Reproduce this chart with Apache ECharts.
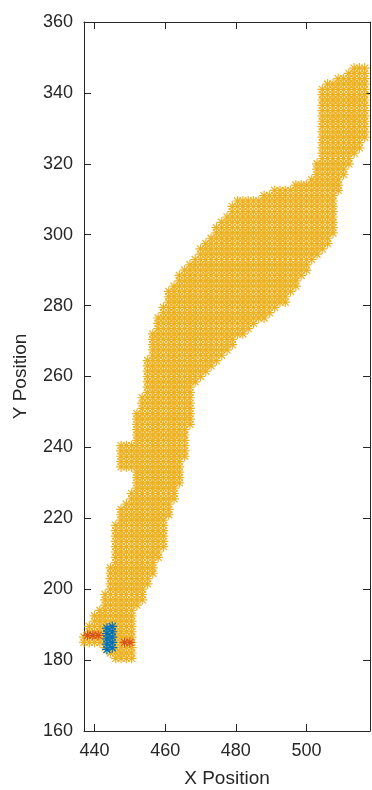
<!DOCTYPE html>
<html>
<head>
<meta charset="utf-8">
<script src="https://cdn.jsdelivr.net/npm/echarts@6/dist/echarts.min.js"></script>
<style>
  html, body { margin: 0; padding: 0; background: #ffffff; }
  #chart { width: 372px; height: 790px; }
</style>
</head>
<body>
<div id="chart"></div>
<script>
// Footprint of the tracked region: each row is [y, xFrom, xTo].
// Samples sit on a 1.5-unit lattice anchored at x = 437.
const yellowRows = [
  [180.5, 446, 450.5], [182, 444, 450.5], [183.5, 442, 450.5], [185, 436.5, 450.8],
  [186.5, 437, 450.8], [188, 437.5, 450.8], [189.5, 438, 450.8], [191, 439, 451],
  [192.5, 440, 451.2], [194, 441, 451.6], [195.5, 441.7, 452.6], [197, 442.2, 453.6],
  [198.5, 442.7, 454.2], [200, 443.1, 454.8], [201.5, 443.5, 455.4], [203, 443.8, 456],
  [204.5, 444.1, 456.6], [206, 444.4, 457.2], [207.5, 444.7, 457.8], [209, 445, 458.5],
  [210.5, 445.2, 459.1], [212, 445.4, 459.5], [213.5, 445.6, 459.8], [215, 445.7, 460.1],
  [216.5, 445.9, 460.3], [218, 446, 460.6], [219.5, 446.2, 460.8], [221, 446.7, 461.2],
  [222.5, 447.3, 461.7], [224, 448.2, 462.1], [225.5, 449.3, 462.5], [227, 450.2, 463.1],
  [228.5, 450.6, 463.7], [230, 451, 464.1], [231.5, 451.2, 464.5], [233, 451.2, 464.8],
  [234.5, 447.5, 465.1], [236, 447.5, 465.3], [237.5, 447.5, 465.6], [239, 447.5, 465.8],
  [240.5, 447.5, 466], [242, 451.2, 466.3], [243.5, 451.2, 466.5], [245, 451.4, 466.7],
  [246.5, 451.6, 467.2], [248, 451.8, 467.2], [249.5, 452, 467.2], [251, 452.4, 467.2],
  [252.5, 452.8, 467.2], [254, 453.2, 467.2], [255.5, 453.7, 467.2], [257, 454, 467.4],
  [258.5, 454.2, 468.5], [260, 454.3, 470.2], [261.5, 454.5, 471.9], [263, 454.7, 473.5],
  [264.5, 454.9, 475.1], [266, 455.2, 476.7], [267.5, 455.6, 478.1], [269, 455.9, 479.2],
  [270.5, 456.2, 480.4], [272, 456.5, 482.2], [273.5, 456.8, 484.2], [275, 457.3, 486.2],
  [276.5, 457.9, 488.2], [278, 458.5, 490.3], [279.5, 459.1, 492.4], [281, 459.7, 494.2],
  [282.5, 460.3, 495.3], [284, 460.9, 496.3], [285.5, 461.6, 497.3], [287, 462.6, 498.1],
  [288.5, 463.8, 499.1], [290, 465, 500], [291.5, 466.2, 501.2], [293, 467.5, 502.6],
  [294.5, 468.7, 504.1], [296, 470, 505.3], [297.5, 471.2, 506.2], [299, 472.2, 507.1],
  [300.5, 473.2, 507.5], [302, 474.2, 507.8], [303.5, 475.2, 508], [305, 476.3, 508.2],
  [306.5, 477.6, 508.4], [308, 479, 508.6], [309.5, 480.2, 508.8], [311, 487.5, 508.9],
  [312.5, 491, 509], [314, 496, 509.1], [315.5, 501, 509.8], [317, 502.7, 510.7],
  [318.5, 502.7, 511.5], [320, 502.9, 512.4], [321.5, 503.2, 513.3], [323, 503.5, 514.2],
  [324.5, 503.5, 515], [326, 503.5, 516], [327.5, 503.5, 517], [329, 503.5, 517],
  [330.5, 503.5, 517], [332, 503.5, 517], [333.5, 503.5, 517], [335, 503.5, 517],
  [336.5, 503.5, 517], [338, 503.5, 517], [339.5, 503.5, 517], [341, 503.5, 517],
  [342.5, 505.5, 517], [344, 508.5, 517], [345.5, 511, 517], [347, 513.5, 517]
];

const redPoints = [
  [438, 187], [439.5, 187], [441, 187],
  [448.5, 185], [450, 185]
];

const bluePoints = [
  [443.5, 183], [443.5, 184.5], [443.5, 186], [443.5, 187.5], [443.5, 189],
  [445, 183.5], [445, 185], [445, 186.5], [445, 188], [445, 189.5]
];

const xTicks = [440, 460, 480, 500];

const latticeStep = 1.5;
const latticeOriginX = 437;

// Expand each row span into lattice samples
function expandRows(rows) {
  const pts = [];
  rows.forEach(([y, from, to]) => {
    let i = Math.ceil((from - latticeOriginX) / latticeStep - 1e-9);
    for (;; i++) {
      const x = Math.round((latticeOriginX + i * latticeStep) * 100) / 100;
      if (x > to + 1e-9) break;
      pts.push([x, y]);
    }
  });
  return pts;
}

const ASTERISK = 'path://M0,-10L0,10M-10,0L10,0M-7.07,-7.07L7.07,7.07M-7.07,7.07L7.07,-7.07';
const FONT = 'Liberation Sans, Arial, Helvetica, sans-serif';
const INK = '#262626';

function markerSeries(data, color, size, width) {
  return {
    type: 'scatter',
    data: data,
    symbol: ASTERISK,
    symbolSize: size,
    clip: false,
    silent: true,
    itemStyle: { color: 'rgba(0,0,0,0)', borderColor: color, borderWidth: width, opacity: 1 }
  };
}

const chart = echarts.init(document.getElementById('chart'), null, { renderer: 'canvas' });

const axisLineStyle = { show: true, onZero: false, lineStyle: { color: INK, width: 1 } };

chart.setOption({
  animation: false,
  backgroundColor: '#ffffff',
  grid: { left: 84, right: 2, top: 22, bottom: 59, outerBoundsMode: 'none' },
  xAxis: [
    {
      type: 'value', min: 437, max: 518, position: 'bottom',
      axisLine: axisLineStyle,
      axisTick: { show: true, inside: true, length: 7, customValues: xTicks, lineStyle: { color: INK } },
      axisLabel: { customValues: xTicks, fontSize: 18, color: INK, fontFamily: FONT, margin: 11 },
      splitLine: { show: false },
      name: 'X Position', nameLocation: 'middle', nameGap: 38,
      nameTextStyle: { fontSize: 19, color: INK, fontFamily: FONT }
    },
    {
      type: 'value', min: 437, max: 518, position: 'top',
      axisLine: axisLineStyle,
      axisTick: { show: true, inside: true, length: 7, customValues: xTicks, lineStyle: { color: INK } },
      axisLabel: { show: false },
      splitLine: { show: false }
    }
  ],
  yAxis: [
    {
      type: 'value', min: 160, max: 360, interval: 20, position: 'left',
      axisLine: axisLineStyle,
      axisTick: { show: true, inside: true, length: 7, lineStyle: { color: INK } },
      axisLabel: { fontSize: 18, color: INK, fontFamily: FONT, margin: 11 },
      splitLine: { show: false },
      name: 'Y Position', nameLocation: 'middle', nameGap: 54, nameRotate: 90,
      nameTextStyle: { fontSize: 19, color: INK, fontFamily: FONT }
    },
    {
      type: 'value', min: 160, max: 360, interval: 20, position: 'right',
      axisLine: axisLineStyle,
      axisTick: { show: true, inside: true, length: 7, lineStyle: { color: INK } },
      axisLabel: { show: false },
      splitLine: { show: false }
    }
  ],
  series: [
    markerSeries(expandRows(yellowRows), '#EDB120', 10, 1.2),
    markerSeries(redPoints, '#D95319', 10, 1.2),
    markerSeries(bluePoints, '#0072BD', 10, 1.2)
  ]
});
</script>
</body>
</html>
